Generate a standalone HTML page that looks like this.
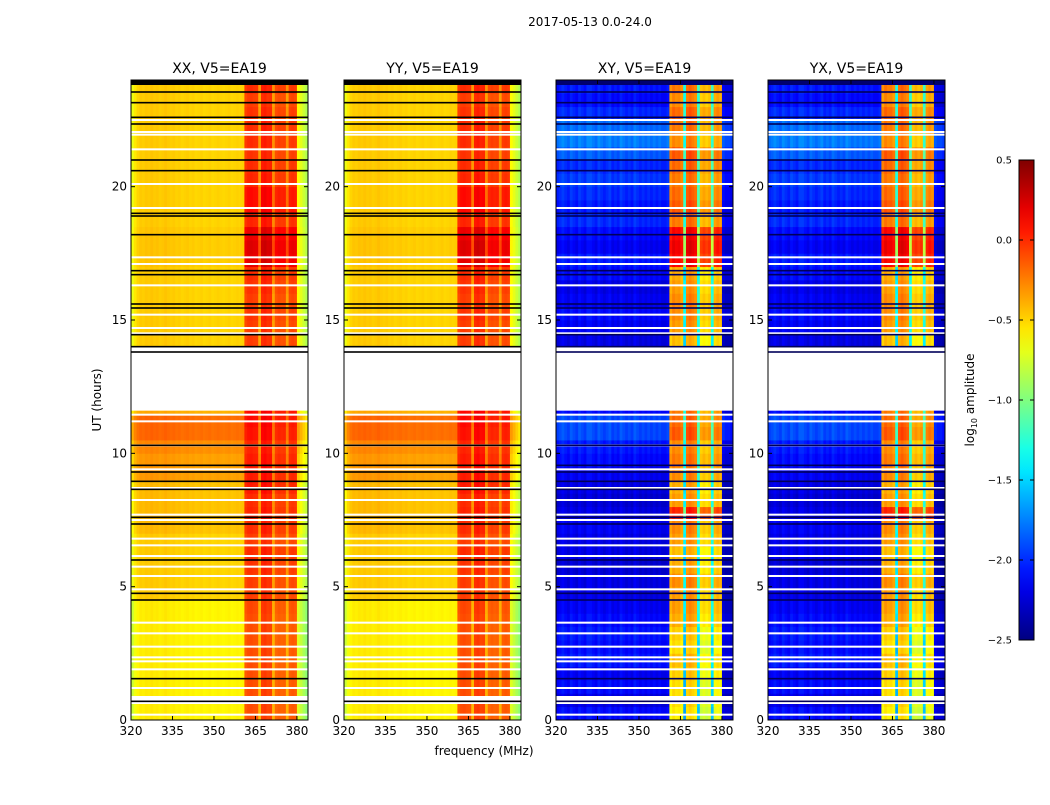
<!DOCTYPE html>
<html><head><meta charset="utf-8"><style>
body{margin:0;background:#fff;font-family:"Liberation Sans","DejaVu Sans",sans-serif;}
svg text{font-family:"DejaVu Sans","Liberation Sans",sans-serif;}
</style></head><body>
<svg id="fig" width="1050" height="800" viewBox="0 0 1050 800" xmlns="http://www.w3.org/2000/svg">
<rect width="1050" height="800" fill="#fff"/>
<text x="590" y="26" font-size="12" text-anchor="middle">2017-05-13 0.0-24.0</text>
<text x="484" y="755" font-size="12" text-anchor="middle">frequency (MHz)</text>
<text transform="translate(101,400) rotate(-90)" font-size="12" text-anchor="middle">UT (hours)</text>
<g id="panels"></g>
<g id="cbar"></g>
</svg>
<script>
// ---- data ----
const freqs = Array.from({length:64},(_,i)=>320+i); // 1 MHz channels
const parallelCols = [-0.68,-0.56,-0.5,-0.47,-0.48,-0.46,-0.47,-0.45,-0.47,-0.46,-0.48,-0.47,-0.45,-0.47,-0.48,-0.47,
 -0.49,-0.48,-0.5,-0.49,-0.48,-0.5,-0.49,-0.51,-0.5,-0.49,-0.51,-0.5,-0.49,-0.51,-0.5,-0.49,
 -0.5,-0.51,-0.5,-0.49,-0.51,-0.5,-0.49,-0.5,-0.49,-0.14,-0.1,-0.09,-0.11,-0.12,-0.42,-0.06,
 -0.04,-0.08,-0.07,-0.4,-0.18,-0.15,-0.17,-0.16,-0.4,-0.15,-0.13,-0.15,-0.62,-0.7,-0.78,-0.86];
const crossCols = [-2.25,-2.2,-2.15,-2.2,-2.25,-2.15,-2.2,-2.25,-2.15,-2.2,-2.25,-2.15,-2.15,-2.2,-2.25,-2.15,
 -2.2,-2.25,-2.2,-2.15,-2.25,-2.2,-2.25,-2.15,-2.2,-2.25,-2.2,-2.25,-2.15,-2.2,-2.25,-2.2,
 -2.25,-2.2,-2.25,-2.2,-2.25,-2.2,-2.25,-2.25,-2.2,-0.4,-0.3,-0.35,-0.33,-0.4,-1.4,-0.3,
 -0.25,-0.3,-0.35,-1.3,-0.55,-0.5,-0.55,-0.5,-1.3,-0.45,-0.4,-0.45,-2.3,-2.35,-2.35,-2.4];
// half-hour rows, 0..24 h (null = no data)
const parallelOutGain = [-0.1,-0.1,-0.1,-0.1,-0.1,-0.1,-0.1,-0.1,-0.1,0,0,0,0,0,0.05,0.05,0.05,0.05,0.15,0.15,0.2,0.3,0.3,0.1,
 null,null,null,null,0,0,0,0,0,0,0.02,0.02,0.02,0,0,0,0,0,0,0,0,0,0,0];
const parallelBandGain = [0,0,0,0,0,0,0,0,0.02,0.05,0.05,0.08,0.1,0.05,0.1,0.12,0.1,0.15,0.15,0.15,0.12,0.18,0.2,0.2,
 null,null,null,null,0.05,0.05,0.08,0.05,0.08,0.1,0.3,0.32,0.28,0.12,0.2,0.2,0.12,0.1,0.08,0.1,0.1,0.08,0.05,0.1];
const crossOutGain = [0.1,0,0.1,0.05,0.15,0.1,0.15,0.1,0.05,0,0,-0.05,0,0,0.05,0,-0.05,0,0.05,0.1,0.15,0.3,0.3,0.1,
 null,null,null,null,0,0.05,0.1,0.05,0,0.1,0.15,0.05,0.1,0.2,0.15,0.2,0.25,0.2,0.35,0.45,0.4,0.2,0.1,0.15];
const crossBandGain = [-0.25,-0.2,-0.2,-0.15,-0.1,-0.2,-0.15,-0.05,0,0,0.05,-0.05,-0.1,0,0.05,0.35,0,-0.05,0.05,0.1,0.05,0.2,0.15,0.1,
 null,null,null,null,-0.1,0,0.05,0.05,0,-0.05,0.45,0.5,0.45,0.1,0.2,0.15,0.1,0.15,0.2,0.05,0.1,0.15,0.05,0.1];
const blankRanges = [[0.6,0.9],[11.6,13.8]];
const blackLines = [0.7,1.55,4.5,4.75,6.0,7.35,7.6,8.65,8.95,9.3,9.55,10.3,13.8,14.0,14.45,15.45,15.6,16.7,16.85,18.2,18.9,19.0,20.6,21.0,22.35,22.6,23.15,23.55];
const whiteLines = [0.2,1.2,1.9,2.2,2.35,2.75,3.25,3.65,4.9,5.4,5.75,6.15,6.55,6.8,7.5,7.7,8.25,8.7,9.4,10.3,11.2,11.45,14.5,14.7,15.2,16.3,17.1,17.35,19.2,20.1,21.4,21.95,22.05,22.5];
const yTicks = [0,5,10,15,20];
const xTicks = [320,335,350,365,380];
const cbTicks = [0.5,0.0,-0.5,-1.0,-1.5,-2.0,-2.5];
const panels = [
 {title:"XX, V5=EA19", left:131, cols:parallelCols, out:parallelOutGain, band:parallelBandGain},
 {title:"YY, V5=EA19", left:344, cols:parallelCols, out:parallelOutGain, band:parallelBandGain},
 {title:"XY, V5=EA19", left:556, cols:crossCols, out:crossOutGain, band:crossBandGain},
 {title:"YX, V5=EA19", left:768, cols:crossCols, out:crossOutGain, band:crossBandGain}];
// ---- helpers ----
const NS="http://www.w3.org/2000/svg";
const TOP=80, BOT=720, W=177, VMIN=-2.5, VMAX=0.5;
const yScale = t => BOT-(t/24)*(BOT-TOP);
const xScale = (left,f) => left+(f-320)/64*W;
function jet(v){
  let x=Math.max(0,Math.min(1,(v-VMIN)/(VMAX-VMIN)));
  const c=(a)=>Math.round(255*Math.max(0,Math.min(1,1.5-Math.abs(4*x-a))));
  return `rgb(${c(3)},${c(2)},${c(1)})`;
}
function mk(tag,attrs,parent){const e=document.createElementNS(NS,tag);for(const k in attrs)e.setAttribute(k,attrs[k]);parent.appendChild(e);return e;}
const root=document.getElementById('panels');
panels.forEach((p,pi)=>{
  const g=mk('g',{},root);
  
  
  const hm=mk('g',{},g);
  
  
  for(let r=0;r<48;r++){
    if(p.out[r]===null) continue;
    const y0=yScale((r+1)*0.5), y1=yScale(r*0.5);
    freqs.forEach((f,c)=>{
      const inBand=f>=361&&f<=379;
      const v=p.cols[c]+(inBand?p.band[r]:p.out[r]);
      const x0=xScale(p.left,f), x1=xScale(p.left,f+1);
      const rc=mk('rect',{x:x0.toFixed(2),y:y0.toFixed(2),width:(x1-x0+0.4).toFixed(2),height:(y1-y0+0.4).toFixed(2),fill:jet(v)},hm);
      
      
    });
  }
  blankRanges.forEach(b=>{
    const e=mk('rect',{x:p.left,y:yScale(b[1]),width:W,height:yScale(b[0])-yScale(b[1]),fill:'#fff'},g);
    
    
  });
  whiteLines.forEach(t=>{
    const e=mk('rect',{x:p.left,y:yScale(t)-1,width:W,height:2,fill:'#fff'},g);
    
    
  });
  blackLines.forEach(t=>{
    const e=mk('rect',{x:p.left,y:yScale(t)-0.8,width:W,height:1.6,fill:pi<2?'#000':'#00005a'},g);
    
    
  });
  const topb=mk('rect',{x:p.left,y:TOP,width:W,height:5,fill:pi<2?'#000':'#00006e'},g);
  
  
  const fr=mk('rect',{x:p.left,y:TOP,width:W,height:BOT-TOP,fill:'none',stroke:'#000','stroke-width':1},g);
  
  
  const tt=mk('text',{x:p.left+W/2,y:73,'font-size':14,'text-anchor':'middle'},g);
  tt.textContent=p.title;
  
  
  yTicks.forEach(t=>{
    const y=yScale(t);
    mk('line',{x1:p.left,x2:p.left+4,y1:y,y2:y,stroke:'#000'},g);
    mk('line',{x1:p.left+W-4,x2:p.left+W,y1:y,y2:y,stroke:'#000'},g);
    const l=mk('text',{x:p.left-4,y:y+4,'font-size':12,'text-anchor':'end'},g);
    l.textContent=t;
    
    
  });
  xTicks.forEach(f=>{
    const x=xScale(p.left,f);
    mk('line',{x1:x,x2:x,y1:BOT,y2:BOT-4,stroke:'#000'},g);
    mk('line',{x1:x,x2:x,y1:TOP,y2:TOP+4,stroke:'#000'},g);
    const l=mk('text',{x:x,y:BOT+15,'font-size':12,'text-anchor':'middle'},g);
    l.textContent=f;
    
    
  });
});
// colorbar
const cb=document.getElementById('cbar');
const defs=mk('defs',{},cb);
const grad=mk('linearGradient',{id:'jetg',x1:0,y1:1,x2:0,y2:0},defs);
for(let i=0;i<=20;i++){mk('stop',{offset:i/20,'stop-color':jet(VMIN+(VMAX-VMIN)*i/20)},grad);}
const CBT=160,CBB=640,CBX=1019,CBW=15;
const cbr=mk('rect',{x:CBX,y:CBT,width:CBW,height:CBB-CBT,fill:'url(#jetg)',stroke:'#000','stroke-width':1},cb);


cbTicks.forEach(v=>{
  const y=CBB-(v-VMIN)/(VMAX-VMIN)*(CBB-CBT);
  mk('line',{x1:CBX,x2:CBX+4,y1:y,y2:y,stroke:'#000'},cb);
  mk('line',{x1:CBX+CBW-4,x2:CBX+CBW,y1:y,y2:y,stroke:'#000'},cb);
  const l=mk('text',{x:1012,y:y+3.5,'font-size':10,'text-anchor':'end'},cb);
  l.textContent=v.toFixed(1).replace('-','\u2212');
  
  
});
const cl=mk('text',{transform:'translate(974,400) rotate(-90)','font-size':12,'text-anchor':'middle'},cb);
cl.innerHTML='log<tspan font-size="8" dy="3">10</tspan><tspan dy="-3"> amplitude</tspan>';


</script>
</body></html>
